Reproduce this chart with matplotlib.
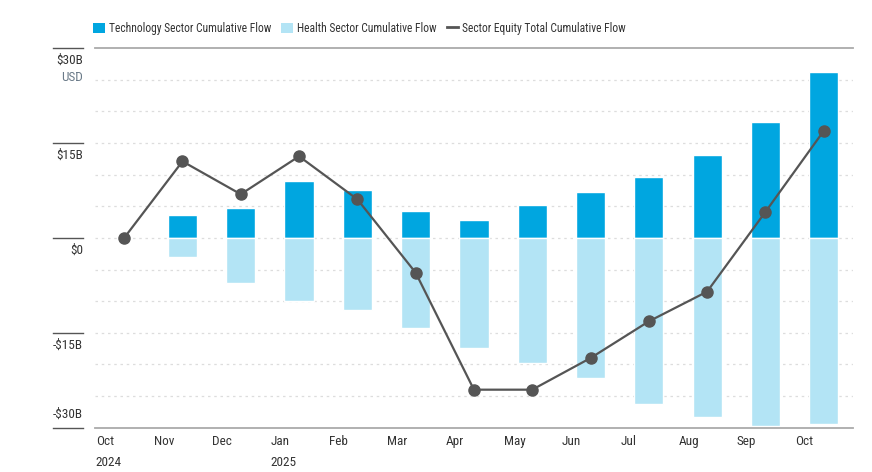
import matplotlib
matplotlib.use("Agg")
import matplotlib.pyplot as plt
import matplotlib.transforms as mtransforms
from matplotlib.patches import Patch
from matplotlib.lines import Line2D
import numpy as np

plt.rcParams['font.family'] = ['Roboto Condensed', 'DejaVu Sans']

# data (billions USD), cumulative flows Oct 2024 - Oct 2025
months = ["Oct", "Nov", "Dec", "Jan", "Feb", "Mar", "Apr",
          "May", "Jun", "Jul", "Aug", "Sep", "Oct"]
years = {0: "2024", 3: "2025"}
tech = [0, 3.6, 4.8, 9.0, 7.5, 4.2, 2.8, 5.2, 7.2, 9.7, 13.1, 18.4, 26.3]
health = [0, -3.1, -7.2, -9.9, -11.4, -14.2, -17.4, -19.8, -22.2, -26.2, -28.3, -29.7, -29.5]
total = [0, 12.1, 6.9, 12.9, 6.1, -5.5, -24.0, -24.0, -19.0, -13.2, -8.5, 4.1, 16.9]
ytick_vals = [30, 15, 0, -15, -30]
ytick_labels = ["$30B", "$15B", "$0", "-$15B", "-$30B"]

c_tech = "#00a6e0"
c_health = "#b3e4f5"
c_line = "#555555"
c_text = "#333333"
fs = 9.5

fig = plt.figure(figsize=(8.72, 4.72), dpi=100)
ax = fig.add_axes([0.109, 0.094, 0.869, 0.804])

x = np.arange(len(months))
# bars (first point has no bar)
ax.bar(x[1:], tech[1:], width=0.5, color=c_tech, edgecolor="white", linewidth=1.0, zorder=2)
ax.bar(x[1:], health[1:], width=0.5, color=c_health, edgecolor="white", linewidth=1.0, zorder=2)
ax.plot(x, total, color=c_line, lw=1.6, marker="o", markersize=8, zorder=3)

ax.set_xlim(-0.5, len(months) - 0.5)
ax.set_ylim(-30, 30)

# grid
for v in np.arange(-25, 30, 5):
    ax.axhline(v, color="#dddddd", lw=0.9, ls=(0, (2, 3)), zorder=1)

for s in ["left", "right"]:
    ax.spines[s].set_visible(False)
for s in ["top", "bottom"]:
    ax.spines[s].set_color("#aaaaaa")
    ax.spines[s].set_linewidth(1.3)

# y labels with short rules
ax.set_yticks([])
tr = mtransforms.blended_transform_factory(ax.transAxes, ax.transData)
for v, lab in zip(ytick_vals, ytick_labels):
    ax.plot([-0.0554, -0.0158], [v, v], transform=tr, color="#555555", lw=1.0, clip_on=False)
    if v == -30:
        ax.text(-0.0158, v + 1.0, lab, transform=tr, ha="right", va="bottom", fontsize=fs, color=c_text)
    else:
        ax.text(-0.0158, v - 0.9, lab, transform=tr, ha="right", va="top", fontsize=fs, color=c_text)
ax.text(-0.0158, 26.4, "USD", transform=tr, ha="right", va="top", fontsize=fs, color="#6a7a88")

# x labels at left edge of each slot
ax.set_xticks([])
trx = mtransforms.blended_transform_factory(ax.transData, ax.transAxes)
for i, m in enumerate(months):
    ax.text(i - 0.49, -0.036, m, transform=trx, ha="left", va="center", fontsize=fs, color=c_text)
for i, yr in years.items():
    ax.text(i - 0.49, -0.092, yr, transform=trx, ha="left", va="center", fontsize=fs, color=c_text)

# legend
handles = [Patch(facecolor=c_tech, edgecolor="none"),
           Patch(facecolor=c_health, edgecolor="none"),
           Line2D([0], [0], color=c_line, lw=2)]
labels = ["Technology Sector Cumulative Flow", "Health Sector Cumulative Flow",
          "Sector Equity Total Cumulative Flow"]
fig.legend(handles, labels, loc="center left", bbox_to_anchor=(0.1067, 0.9396), ncol=3,
           frameon=False, fontsize=8.3, handlelength=1.0, handleheight=1.0,
           handletextpad=0.35, columnspacing=0.9, borderaxespad=0, borderpad=0,
           labelcolor=c_text)

fig.savefig("out.png", dpi=100)
